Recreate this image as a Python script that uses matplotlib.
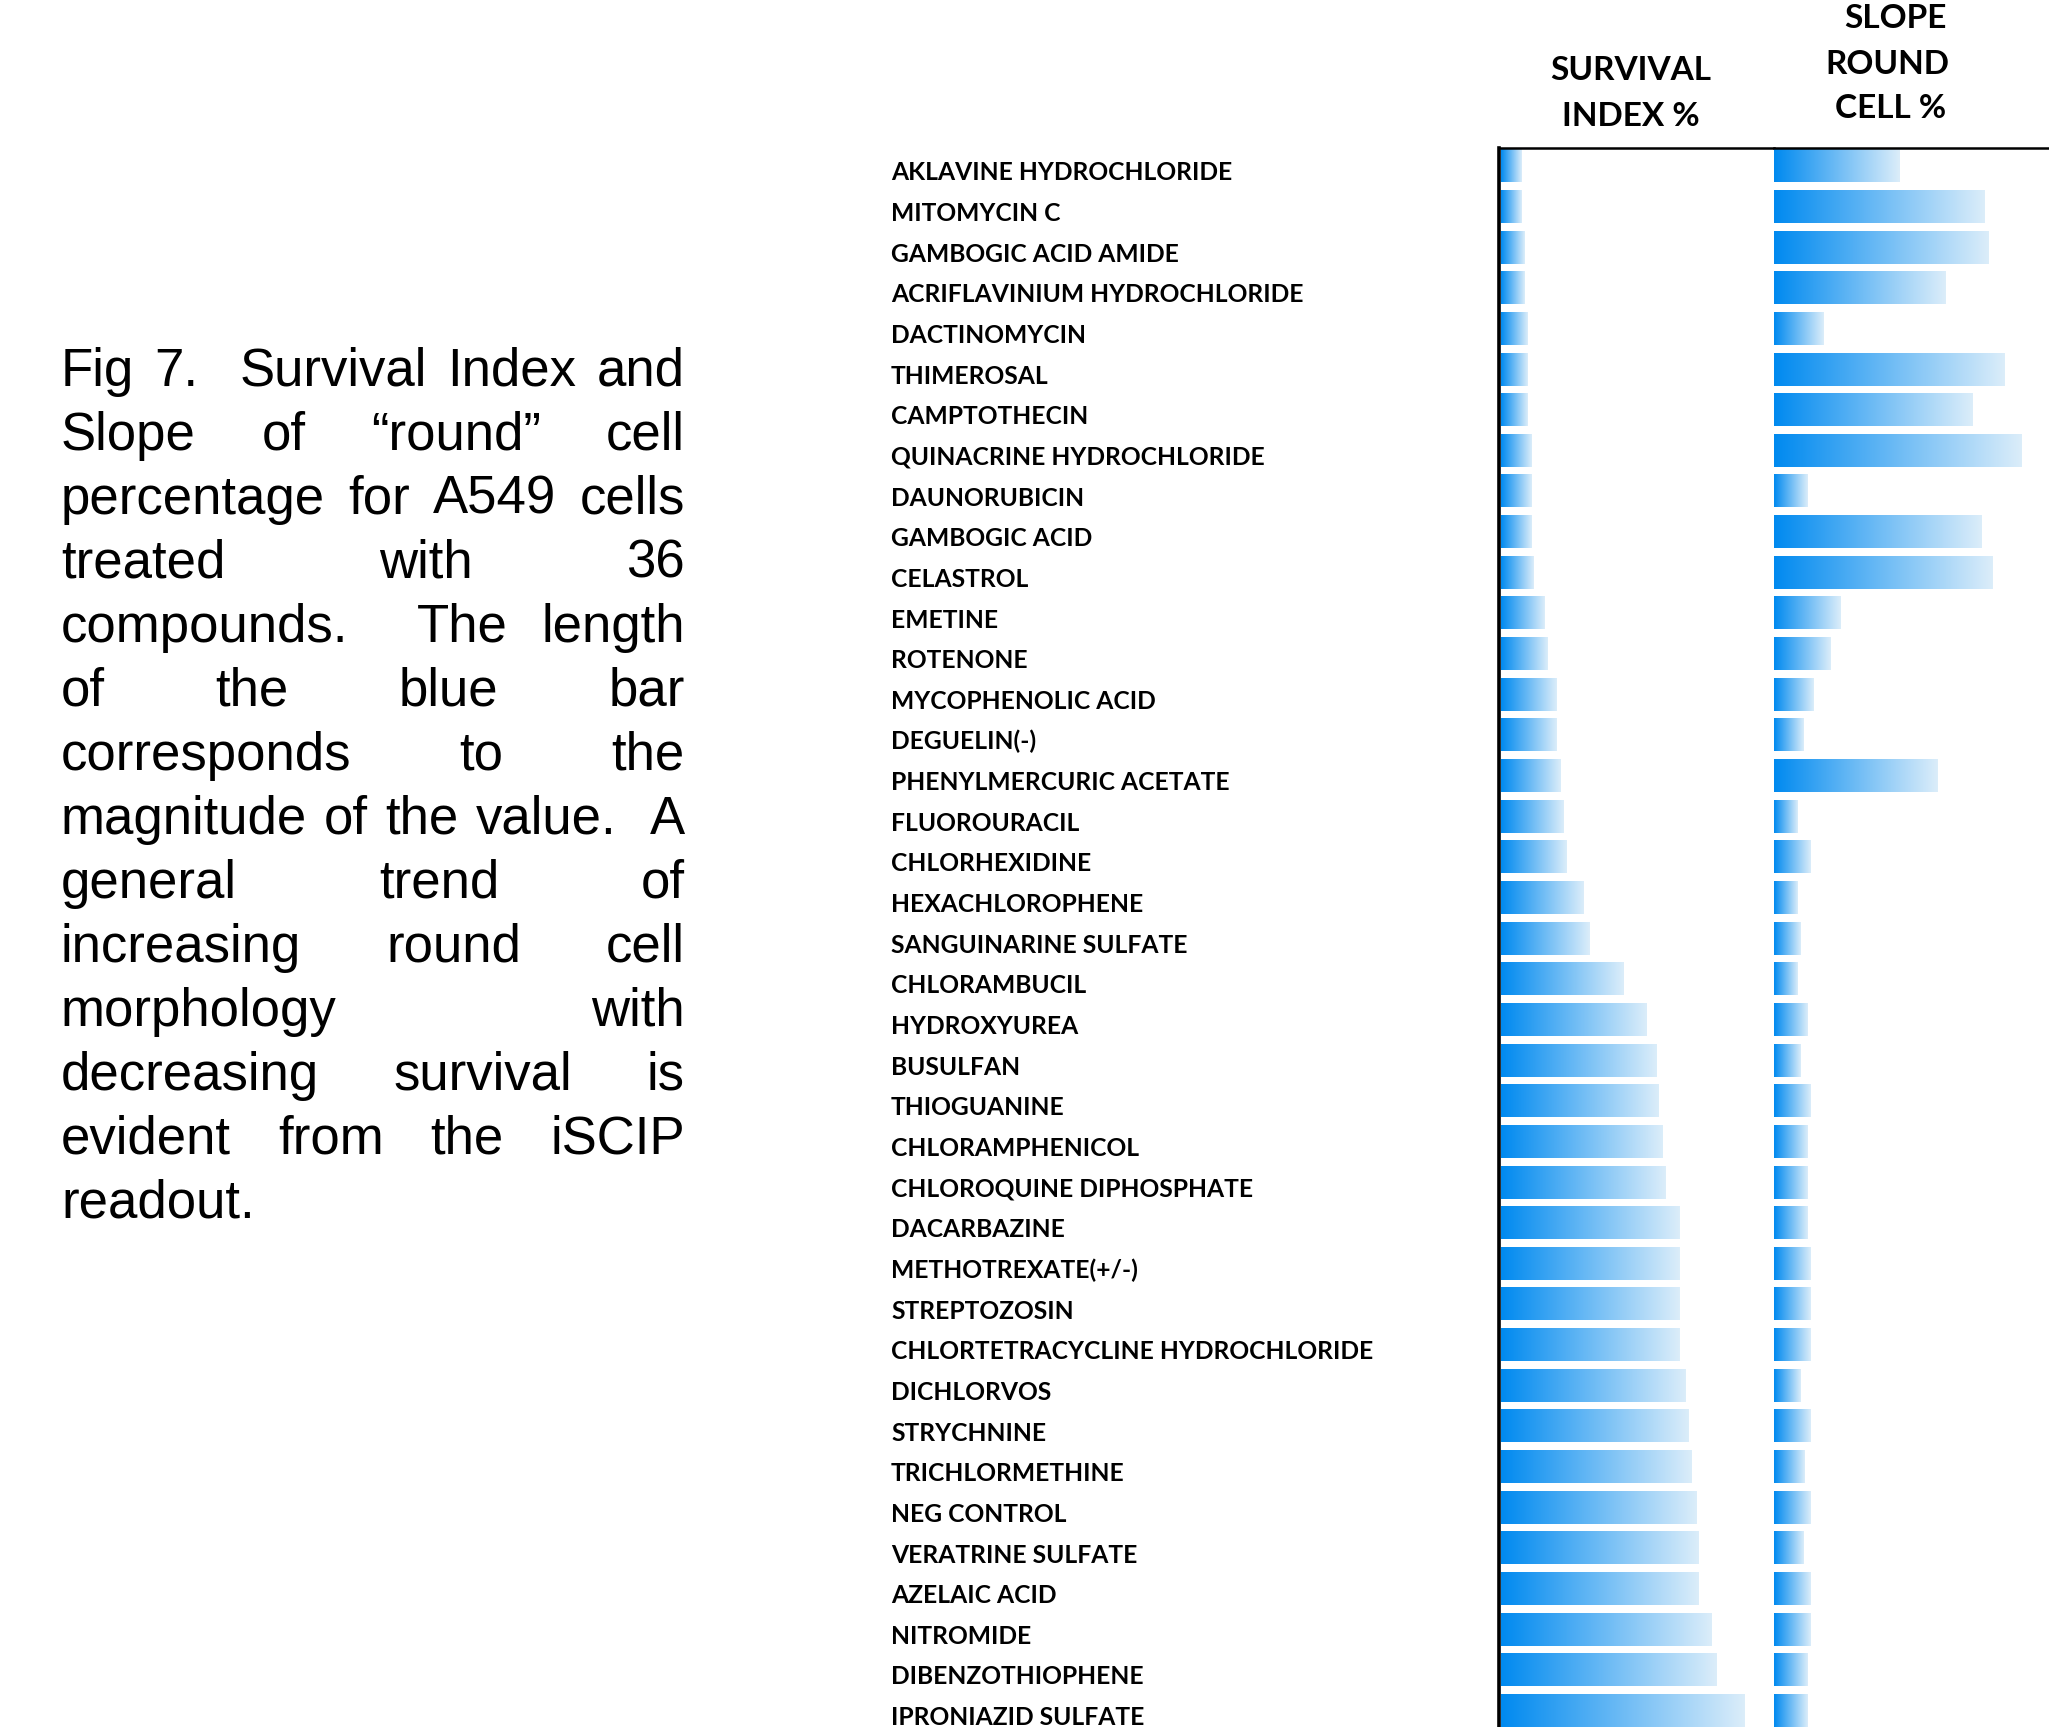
import matplotlib.pyplot as plt
import numpy as np
from matplotlib.colors import LinearSegmentedColormap
from matplotlib.transforms import blended_transform_factory

# --- data ---
compounds = [
    "AKLAVINE HYDROCHLORIDE", "MITOMYCIN C", "GAMBOGIC ACID AMIDE",
    "ACRIFLAVINIUM HYDROCHLORIDE", "DACTINOMYCIN", "THIMEROSAL", "CAMPTOTHECIN",
    "QUINACRINE HYDROCHLORIDE", "DAUNORUBICIN", "GAMBOGIC ACID", "CELASTROL",
    "EMETINE", "ROTENONE", "MYCOPHENOLIC ACID", "DEGUELIN(-)",
    "PHENYLMERCURIC ACETATE", "FLUOROURACIL", "CHLORHEXIDINE", "HEXACHLOROPHENE",
    "SANGUINARINE SULFATE", "CHLORAMBUCIL", "HYDROXYUREA", "BUSULFAN",
    "THIOGUANINE", "CHLORAMPHENICOL", "CHLOROQUINE DIPHOSPHATE", "DACARBAZINE",
    "METHOTREXATE(+/-)", "STREPTOZOSIN", "CHLORTETRACYCLINE HYDROCHLORIDE",
    "DICHLORVOS", "STRYCHNINE", "TRICHLORMETHINE", "NEG CONTROL",
    "VERATRINE SULFATE", "AZELAIC ACID", "NITROMIDE", "DIBENZOTHIOPHENE",
    "IPRONIAZID SULFATE",
]

survival_index = [
    10.3, 10.3, 11.8, 11.8, 13.8, 13.8, 13.8, 15.4, 15.4, 15.4, 16.9,
    22.1, 23.6, 28.7, 28.7, 30.3, 32.3, 33.8, 42.1, 45.6, 62.6,
    74.4, 79.5, 81.0, 82.6, 84.6, 91.3, 91.3, 91.3, 91.3,
    94.4, 96.4, 97.9, 100.0, 101.5, 101.5, 108.2, 110.3, 125.1,
]

slope_round = [
    1.26, 2.11, 2.15, 1.72, 0.50, 2.31, 1.99, 2.48, 0.34, 2.08, 2.19,
    0.67, 0.57, 0.40, 0.30, 1.64, 0.24, 0.37, 0.24, 0.27, 0.24,
    0.34, 0.27, 0.37, 0.34, 0.34, 0.34, 0.37, 0.37, 0.37,
    0.27, 0.37, 0.31, 0.37, 0.30, 0.37, 0.37, 0.34, 0.34,
]

header_survival = ["SURVIVAL", "INDEX %"]
header_slope = ["SLOPE", "ROUND", "CELL %"]

caption_lines = [
    "Fig 7.  Survival Index and",
    "Slope of \u201cround\u201d cell",
    "percentage for A549 cells",
    "treated with 36",
    "compounds.  The length",
    "of the blue bar",
    "corresponds to the",
    "magnitude of the value.  A",
    "general trend of",
    "increasing round cell",
    "morphology with",
    "decreasing survival is",
    "evident from the iSCIP",
    "readout.",
]

W, H = 2049, 1727
fig = plt.figure(figsize=(W / 100, H / 100), dpi=100)
fig.patch.set_facecolor("white")


def fx(px):
    return px / W


def fy(py):
    return 1 - py / H


# excel-like data bar gradient
bar_cmap = LinearSegmentedColormap.from_list(
    "databar", [(0.0, 0.54, 0.94), (0.86, 0.93, 0.98)]
)
gradient = np.linspace(0, 1, 256).reshape(1, -1)

# row geometry (in px): row i centre = 165.8 + 40.65 * i
row0, row_step = 165.8, 40.65
y_top = (148 - row0) / row_step
y_bot = (H - row0) / row_step

ax_top_frac = fy(148)
ax1 = fig.add_axes([fx(1499), 0, fx(1774 - 1499), ax_top_frac])
ax2 = fig.add_axes([fx(1774), 0, fx(W - 1774), ax_top_frac])

ypos = np.arange(len(compounds))


def gradient_bars(ax, values):
    bars = ax.barh(ypos, values, height=0.81, color="none", edgecolor="none")
    for b in bars:
        x, y = b.get_xy()
        w, h = b.get_width(), b.get_height()
        ax.imshow(gradient, extent=(x, x + w, y + h, y), aspect="auto",
                  cmap=bar_cmap, interpolation="bilinear", zorder=2)


gradient_bars(ax1, survival_index)
gradient_bars(ax2, slope_round)

ax1.set_xlim(-1.0, (1774 - 1499) / 1.95 - 1.0)
ax2.set_xlim(0, 2.75)
for ax in (ax1, ax2):
    ax.set_ylim(y_bot, y_top)
    ax.set_xticks([])
    ax.set_yticks([])
    ax.set_facecolor("none")
    for s in ("right", "bottom", "left"):
        ax.spines[s].set_visible(False)
    ax.spines["top"].set_linewidth(1.8)
    ax.spines["top"].set_color("black")
ax1.spines["left"].set_visible(True)
ax1.spines["left"].set_linewidth(2.6)
ax1.spines["left"].set_color("black")

# compound labels
trans = blended_transform_factory(fig.transFigure, ax1.transData)
for i, name in enumerate(compounds):
    fig.text(fx(891), i + 0.36, name, transform=trans, family="Lato",
             fontweight="bold", fontsize=17.7, va="baseline", ha="left",
             clip_on=False)

# column headers
for line, yc in zip(header_survival, [71, 116]):
    fig.text(fx(1631), fy(yc), line, family="Lato", fontweight="bold",
             fontsize=24, ha="center", va="center")
for line, yc, xc in zip(header_slope, [19, 64, 108], [1895, 1887, 1891]):
    fig.text(fx(xc), fy(yc), line, family="Lato", fontweight="bold",
             fontsize=24, ha="center", va="center")

# justified caption on the left
cap_size = 38
cap_left, cap_right = 61, 685
renderer = fig.canvas.get_renderer()


def word_width(s):
    if not s:
        return 0.0
    t = fig.text(0, 0, s, family="Liberation Sans", fontsize=cap_size)
    w = t.get_window_extent(renderer).width
    t.remove()
    return w


for k, line in enumerate(caption_lines):
    base = 386 + 64 * k
    words = line.split(" ")
    if k == len(caption_lines) - 1 or len(words) == 1:
        fig.text(fx(cap_left), fy(base), line, family="Liberation Sans",
                 fontsize=cap_size, va="baseline", ha="left")
        continue
    widths = [word_width(w) for w in words]
    gap = (cap_right - cap_left - sum(widths)) / (len(words) - 1)
    x = cap_left
    for w, ww in zip(words, widths):
        if w:
            fig.text(fx(x), fy(base), w, family="Liberation Sans",
                     fontsize=cap_size, va="baseline", ha="left")
        x += ww + gap

fig.savefig("out.png", dpi=100, facecolor="white")
